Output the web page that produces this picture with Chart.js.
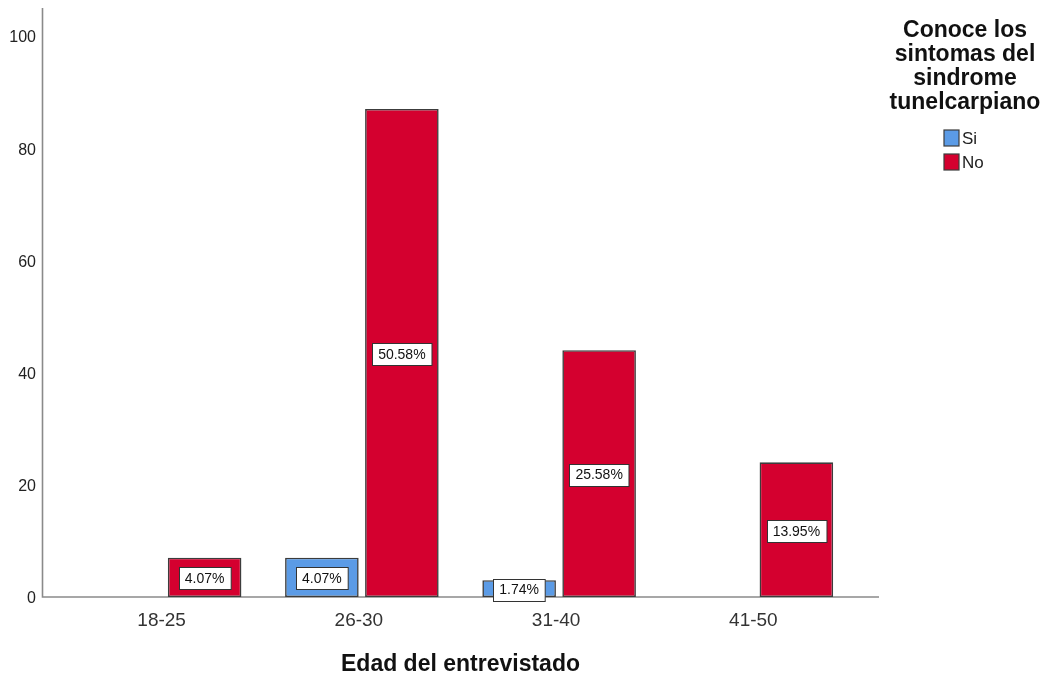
<!DOCTYPE html>
<html>
<head>
<meta charset="utf-8">
<script src="https://cdn.jsdelivr.net/npm/chart.js@4.4.1/dist/chart.umd.min.js"></script>
<style>
  html, body { margin: 0; padding: 0; background: #ffffff; }
  #wrap { width: 1045px; height: 679px; position: relative; }
</style>
</head>
<body>
<div id="wrap"><canvas id="chart" width="1045" height="679"></canvas></div>
<script>
// Counts of respondents per age group, split by whether they know the symptoms
const categories = ['18-25', '26-30', '31-40', '41-50'];
const siCounts = [0, 7, 3, 0];
const noCounts = [7, 87, 44, 24];
const seriesNames = ['Si', 'No'];
const yTickValues = [0, 20, 40, 60, 80, 100];
const legendTitleLines = ['Conoce los', 'sintomas del', 'sindrome', 'tunelcarpiano'];
const xAxisTitle = 'Edad del entrevistado';

const FONT = "'Liberation Sans', Arial, sans-serif";
const SI_COLOR = '#5b9be6';
const NO_COLOR = '#d4002f';
const BAR_EDGE = '#3c3c3c';
const AXIS_COLOR = '#8a8a8a';

const grandTotal = siCounts.concat(noCounts).reduce((a, b) => a + b, 0);

// Axis lines run a little past the category band on both ends
const axisLines = {
  id: 'axisLines',
  beforeDatasetsDraw(chart) {
    const { ctx, chartArea: a } = chart;
    ctx.save();
    ctx.strokeStyle = AXIS_COLOR;
    ctx.lineWidth = 1.6;
    ctx.beginPath();
    ctx.moveTo(a.left - 23.5, a.top);
    ctx.lineTo(a.left - 23.5, a.bottom);
    ctx.lineTo(a.right + 24, a.bottom);
    ctx.stroke();
    ctx.restore();
  }
};

// Percentage of the grand total, boxed at the middle of each bar
const barLabels = {
  id: 'barLabels',
  afterDatasetsDraw(chart) {
    const { ctx } = chart;
    ctx.save();
    ctx.font = '14px ' + FONT;
    ctx.textAlign = 'center';
    ctx.textBaseline = 'middle';
    chart.data.datasets.forEach((ds, di) => {
      const meta = chart.getDatasetMeta(di);
      meta.data.forEach((bar, i) => {
        const v = ds.data[i];
        if (!v) return;
        const { x, y, base } = bar.getProps(['x', 'y', 'base'], true);
        const cy = (y + base) / 2 + 1;
        const txt = (v / grandTotal * 100).toFixed(2) + '%';
        const w = ctx.measureText(txt).width + 12;
        const h = 22;
        const bx = Math.round(x - w / 2) + 0.5;
        const by = Math.round(cy - h / 2) + 0.5;
        ctx.fillStyle = '#ffffff';
        ctx.fillRect(bx, by, w, h);
        ctx.strokeStyle = '#333333';
        ctx.lineWidth = 1;
        ctx.strokeRect(bx, by, w, h);
        ctx.fillStyle = '#111111';
        ctx.fillText(txt, x, cy + 1);
      });
    });
    ctx.restore();
  }
};

// Legend block with a wrapped title, placed in the right margin
const sideLegend = {
  id: 'sideLegend',
  afterDraw(chart) {
    const { ctx, width } = chart;
    const cx = width - 80;
    ctx.save();
    ctx.fillStyle = '#111111';
    ctx.font = 'bold 23px ' + FONT;
    ctx.textAlign = 'center';
    ctx.textBaseline = 'middle';
    legendTitleLines.forEach((line, i) => ctx.fillText(line, cx, 31 + i * 24));
    ctx.textAlign = 'left';
    ctx.font = '17px ' + FONT;
    chart.data.datasets.forEach((ds, i) => {
      const y = 138 + i * 24;
      ctx.fillStyle = ds.backgroundColor;
      ctx.fillRect(944, y - 8, 15, 16);
      ctx.strokeStyle = BAR_EDGE;
      ctx.lineWidth = 1.2;
      ctx.strokeRect(944, y - 8, 15, 16);
      ctx.fillStyle = '#222222';
      ctx.fillText(ds.label, 962, y + 1);
    });
    ctx.restore();
  }
};

new Chart(document.getElementById('chart'), {
  type: 'bar',
  data: {
    labels: categories,
    datasets: [
      { label: seriesNames[0], data: siCounts.map(v => v || null), backgroundColor: SI_COLOR },
      { label: seriesNames[1], data: noCounts.map(v => v || null), backgroundColor: NO_COLOR }
    ]
  },
  options: {
    responsive: false,
    animation: false,
    devicePixelRatio: 1,
    layout: { padding: { top: 8, right: 190, left: 0, bottom: 0 } },
    datasets: {
      bar: {
        categoryPercentage: 0.811,
        barPercentage: 0.92,
        borderColor: BAR_EDGE,
        borderWidth: 1.6,
        borderSkipped: false
      }
    },
    plugins: {
      legend: { display: false },
      tooltip: { enabled: false }
    },
    scales: {
      x: {
        type: 'category',
        offset: true,
        grid: { display: false, drawTicks: false },
        border: { display: false },
        ticks: { font: { family: FONT, size: 19 }, color: '#333333', padding: 12, labelOffset: -3 },
        title: {
          display: true,
          text: xAxisTitle,
          font: { family: FONT, size: 23, weight: 'bold' },
          color: '#111111',
          padding: { top: 0, bottom: 1 }
        },
        afterFit(scale) { scale.height = 82; }
      },
      y: {
        min: 0,
        max: 105,
        afterBuildTicks(scale) { scale.ticks = yTickValues.map(v => ({ value: v })); },
        grid: { display: false, drawTicks: false },
        border: { display: false },
        ticks: { font: { family: FONT, size: 16 }, color: '#222222', padding: 30, labelOffset: 2 },
        afterFit(scale) {
          scale.width = 66;
          scale.paddingTop = 0;
          scale.paddingBottom = 0;
        }
      }
    }
  },
  plugins: [axisLines, barLabels, sideLegend]
});
</script>
</body>
</html>
